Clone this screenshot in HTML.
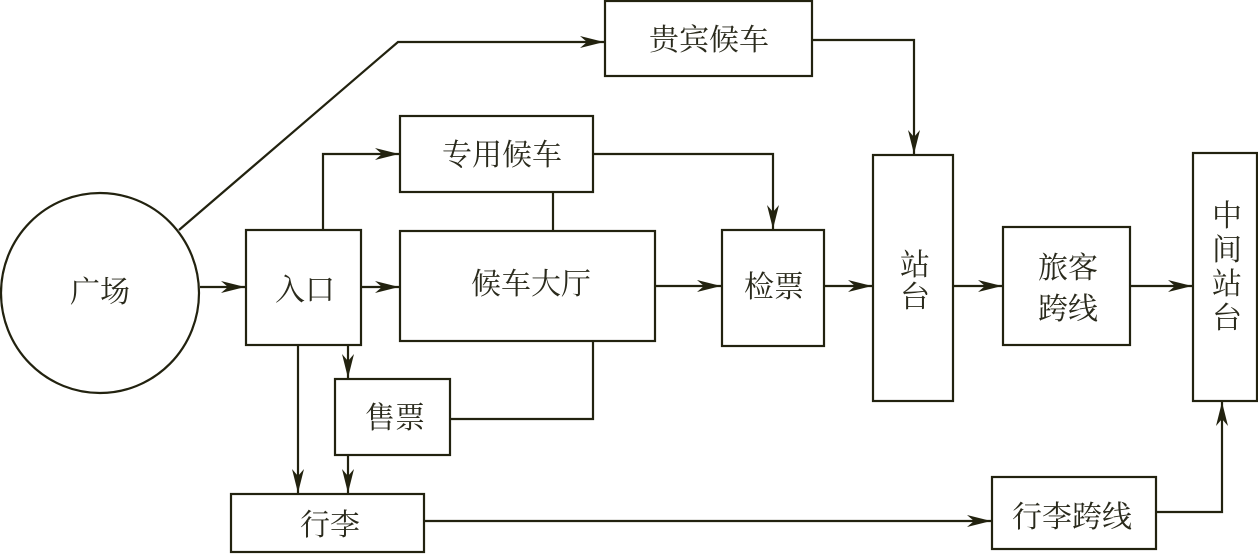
<!DOCTYPE html>
<html><head><meta charset="utf-8"><style>
html,body{margin:0;padding:0;background:#fff;}
svg{display:block;}
text{font-family:"Liberation Serif","Noto Serif CJK SC",serif;font-size:30px;fill:#2a2a1c;}
</style></head><body>
<svg width="1258" height="554" viewBox="0 0 1258 554" xmlns="http://www.w3.org/2000/svg">
<defs>
<marker id="a" markerWidth="26" markerHeight="14" refX="24" refY="7" orient="auto" markerUnits="userSpaceOnUse">
<path d="M0,1 L24,7 L0,13 L7,7 Z" fill="#22220f"/>
</marker>
</defs>
<g fill="none" stroke="#22220f" stroke-width="2.2">
<ellipse cx="100" cy="293" rx="99" ry="100"/>
<rect x="605" y="1" width="207" height="75"/>
<rect x="400" y="116" width="193" height="76"/>
<rect x="246" y="230" width="115" height="115"/>
<rect x="400" y="231" width="255" height="110"/>
<rect x="722" y="230" width="102" height="116"/>
<rect x="873" y="155" width="80" height="246"/>
<rect x="1003" y="227" width="127" height="118"/>
<rect x="1193" y="153" width="64" height="248"/>
<rect x="335" y="379" width="115" height="76"/>
<rect x="231" y="494" width="193" height="58"/>
<rect x="992" y="477" width="164" height="72"/>

<polyline points="179,230 398,42 604,42" marker-end="url(#a)"/>
<line x1="200" y1="287" x2="245" y2="287" marker-end="url(#a)"/>
<line x1="361" y1="287" x2="399" y2="287" marker-end="url(#a)"/>
<polyline points="323,230 323,154 399,154" marker-end="url(#a)"/>
<line x1="553" y1="192" x2="553" y2="231"/>
<polyline points="593,154 773,154 773,229" marker-end="url(#a)"/>
<polyline points="812,40 914,40 914,154" marker-end="url(#a)"/>
<line x1="655" y1="286" x2="721" y2="286" marker-end="url(#a)"/>
<line x1="824" y1="286" x2="872" y2="286" marker-end="url(#a)"/>
<line x1="953" y1="286" x2="1002" y2="286" marker-end="url(#a)"/>
<line x1="1130" y1="286" x2="1192" y2="286" marker-end="url(#a)"/>
<line x1="348" y1="345" x2="348" y2="378" marker-end="url(#a)"/>
<polyline points="593,341 593,419 450,419"/>
<line x1="298" y1="345" x2="298" y2="493" marker-end="url(#a)"/>
<line x1="348" y1="455" x2="348" y2="493" marker-end="url(#a)"/>
<line x1="424" y1="521" x2="991" y2="521" marker-end="url(#a)"/>
<polyline points="1156,512 1222,512 1222,402" marker-end="url(#a)"/>
</g>
<g text-anchor="middle">
<text x="709" y="50">贵宾候车</text>
<text x="502" y="165">专用候车</text>
<text x="100" y="302">广场</text>
<text x="305" y="300">入口</text>
<text x="531" y="294">候车大厅</text>
<text x="774" y="297">检票</text>
<text x="915" y="275">站</text>
<text x="915" y="307">台</text>
<text x="1068" y="278">旅客</text>
<text x="1068" y="319">跨线</text>
<text x="1227" y="226">中</text>
<text x="1227" y="260">间</text>
<text x="1227" y="294">站</text>
<text x="1227" y="328">台</text>
<text x="395" y="428">售票</text>
<text x="330" y="535">行李</text>
<text x="1072" y="527">行李跨线</text>
</g>
</svg>
</body></html>
